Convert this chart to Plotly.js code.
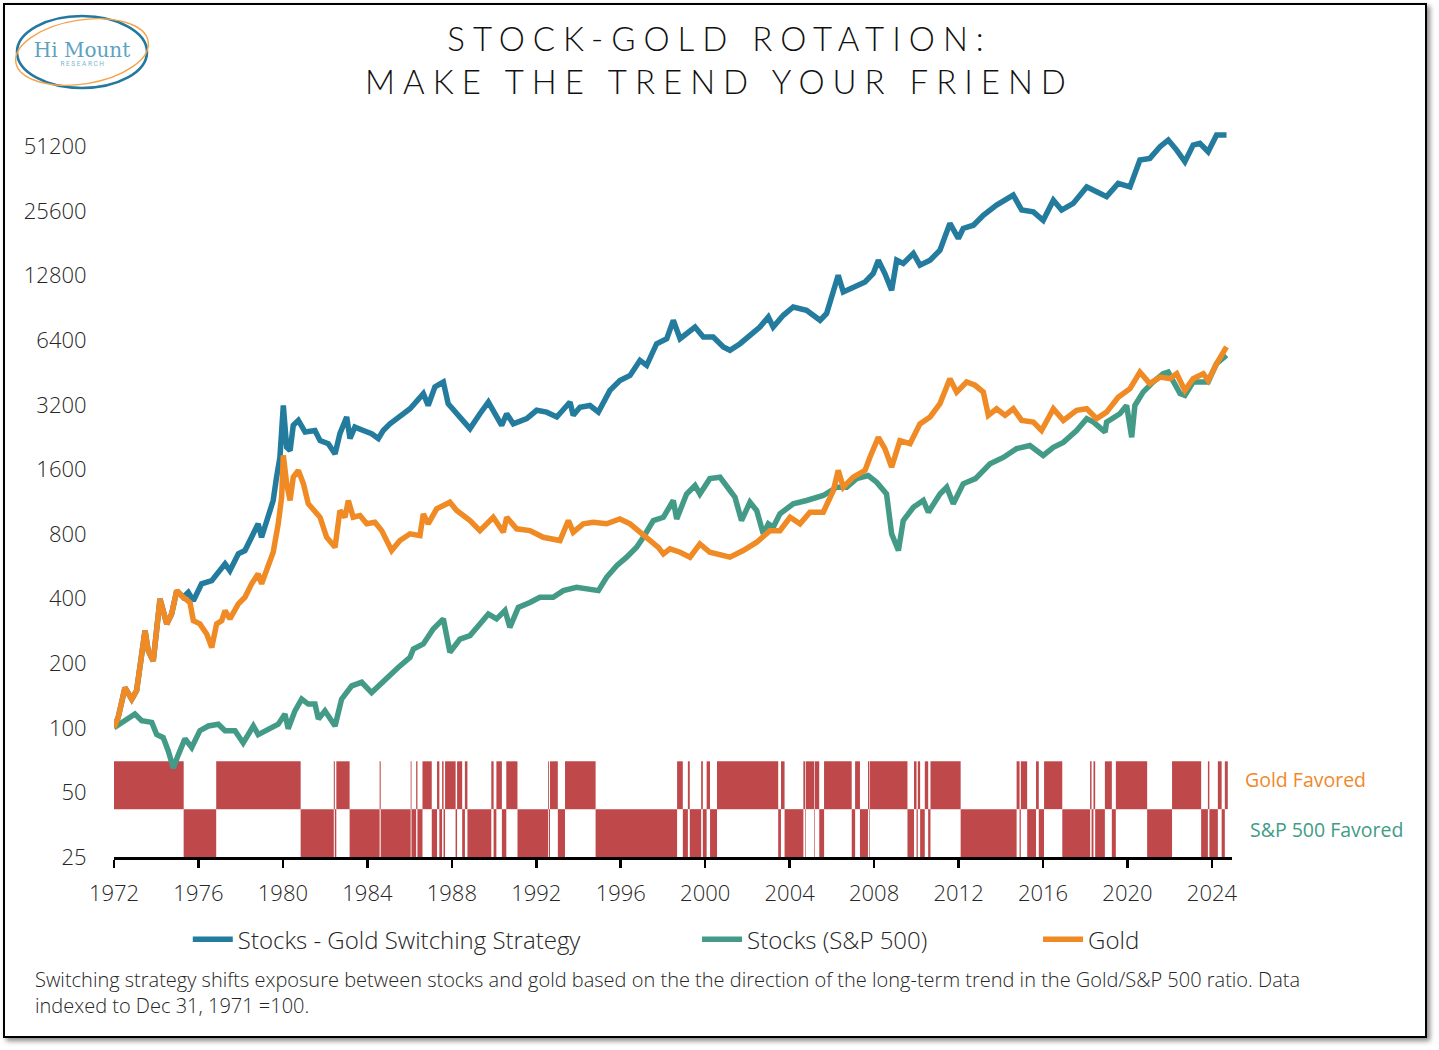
<!DOCTYPE html>
<html>
<head>
<meta charset="utf-8">
<script src="https://cdn.plot.ly/plotly-3.0.1.min.js"></script>
<style>
  body { margin: 0; background: #fff; }
  #frame { position: absolute; left: 3px; top: 3px; width: 1420px; height: 1031px;
           border: 2.5px solid #000; box-shadow: 3px 3px 5px #8a8a8a; background: #fff; }
  #chart { position: absolute; left: 0; top: 0; width: 1439px; height: 1050px; }
  #logo { position: absolute; left: 0; top: 0; }
  .gtitle { letter-spacing: 8px; }
</style>
</head>
<body>
<div id="frame"></div>
<div id="chart"></div>
<svg id="logo" width="170" height="100">
  <ellipse cx="82" cy="52" rx="65" ry="36" fill="none" stroke="#23789F" stroke-width="2.6"/>
  <ellipse cx="82" cy="52" rx="67" ry="32" fill="none" stroke="#F4A34B" stroke-width="1.4" transform="rotate(-9 82 52)"/>
  <text x="82" y="57" text-anchor="middle" font-family="DejaVu Serif, serif" font-size="20" font-weight="300" fill="#5BA3C0">Hi Mount</text>
  <text x="83" y="65.5" text-anchor="middle" font-family="Roboto, sans-serif" font-size="6.5" letter-spacing="1.6" fill="#7AB5CE">RESEARCH</text>
</svg>
<script>
// ------------------------------------------------------------
// data (decimal years, index level, Dec 31 1971 = 100)
// ------------------------------------------------------------

const goldYears = [1972.00, 1972.20, 1972.52, 1972.84, 1973.07, 1973.23, 1973.47, 1973.62, 1973.86, 1974.18,
  1974.50, 1974.73, 1974.97, 1975.28, 1975.60, 1975.76, 1976.07, 1976.39, 1976.63, 1976.86,
  1977.10, 1977.26, 1977.49, 1977.89, 1978.20, 1978.52, 1978.83, 1978.99, 1979.31, 1979.54,
  1979.78, 1979.94, 1980.02, 1980.18, 1980.34, 1980.49, 1980.73, 1980.97, 1981.20, 1981.52,
  1981.76, 1982.07, 1982.31, 1982.47, 1982.70, 1982.94, 1983.10, 1983.33, 1983.65, 1983.97,
  1984.36, 1984.68, 1985.15, 1985.54, 1986.02, 1986.49, 1986.65, 1986.88, 1987.28, 1987.91,
  1988.23, 1988.86, 1989.33, 1989.96, 1990.44, 1990.60, 1991.07, 1991.70, 1992.33, 1993.12,
  1993.52, 1993.75, 1994.23, 1994.70, 1995.33, 1995.96, 1996.44, 1996.83, 1997.30, 1997.78,
  1998.02, 1998.33, 1998.81, 1999.28, 1999.75, 2000.22, 2001.17, 2001.80, 2002.44, 2003.07,
  2003.54, 2004.02, 2004.49, 2004.96, 2005.59, 2006.07, 2006.30, 2006.54, 2007.01, 2007.57,
  2007.80, 2008.20, 2008.51, 2008.83, 2009.22, 2009.70, 2010.17, 2010.65, 2011.12, 2011.59,
  2011.91, 2012.38, 2012.78, 2013.17, 2013.41, 2013.80, 2014.20, 2014.59, 2014.99, 2015.54,
  2015.93, 2016.49, 2016.96, 2017.59, 2018.07, 2018.54, 2019.01, 2019.56, 2020.12, 2020.59,
  2021.06, 2021.54, 2022.01, 2022.33, 2022.72, 2023.11, 2023.59, 2023.82, 2024.22, 2024.46,
  2024.69]
const goldValues = [100, 112, 154, 136, 149, 198, 284, 229, 205, 399,
  305, 339, 436, 406, 384, 316, 305, 274, 237, 305,
  316, 352, 322, 378, 406, 469, 522, 469, 560, 658,
  893, 1188, 1860, 1372, 1147, 1473, 1584, 1372, 1107, 1030,
  958, 773, 720, 694, 1030, 958, 1147, 958, 976, 893,
  908, 830, 670, 746, 802, 787, 994, 893, 1048, 1126,
  1030, 925, 830, 958, 816, 958, 846, 830, 773, 746,
  925, 816, 893, 908, 893, 941, 893, 830, 760, 694,
  647, 683, 658, 624, 720, 658, 624, 670, 733, 830,
  830, 958, 893, 1011, 1011, 1277, 1584, 1323, 1473, 1584,
  1820, 2260, 2000, 1640, 2180, 2110, 2610, 2810, 3240, 4240,
  3670, 4090, 3950, 3670, 2860, 3070, 2860, 3070, 2710, 2660,
  2430, 3070, 2710, 3020, 3070, 2760, 2960, 3470, 3810, 4550,
  4020, 4310, 4240, 4470, 3740, 4240, 4470, 4160, 4980, 5450,
  5960]

const spxYears = [1972.00, 1972.36, 1972.99, 1973.31, 1973.79, 1974.02, 1974.33, 1974.57, 1974.81, 1975.05,
  1975.36, 1975.68, 1976.07, 1976.47, 1976.94, 1977.26, 1977.73, 1978.12, 1978.60, 1978.83,
  1979.31, 1979.78, 1980.10, 1980.25, 1980.57, 1980.89, 1981.20, 1981.52, 1981.68, 1981.99,
  1982.47, 1982.78, 1983.26, 1983.73, 1984.20, 1984.60, 1984.99, 1985.46, 1986.02, 1986.18,
  1986.65, 1987.12, 1987.60, 1987.91, 1988.39, 1988.86, 1989.33, 1989.73, 1990.12, 1990.52,
  1990.75, 1991.15, 1991.70, 1992.17, 1992.80, 1993.28, 1993.91, 1994.54, 1994.94, 1995.33,
  1995.81, 1996.28, 1996.75, 1997.07, 1997.54, 1998.02, 1998.49, 1998.65, 1999.12, 1999.52,
  1999.75, 2000.22, 2000.70, 2001.17, 2001.41, 2001.72, 2002.12, 2002.44, 2002.75, 2002.99,
  2003.22, 2003.54, 2004.17, 2004.80, 2005.59, 2006.23, 2006.70, 2007.17, 2007.72, 2008.12,
  2008.59, 2008.83, 2009.15, 2009.38, 2009.86, 2010.33, 2010.57, 2011.12, 2011.44, 2011.75,
  2012.22, 2012.80, 2013.49, 2014.12, 2014.75, 2015.38, 2016.01, 2016.49, 2016.96, 2017.59,
  2018.07, 2018.39, 2018.94, 2019.01, 2019.64, 2019.96, 2020.20, 2020.35, 2020.74, 2021.21,
  2021.69, 2021.93, 2022.49, 2022.72, 2023.11, 2023.82, 2024.22, 2024.69]
const spxValues = [100, 106, 116, 108, 106, 93, 90, 78, 65, 75,
  89, 81, 97, 102, 104, 97, 97, 85, 102, 93,
  99, 104, 116, 99, 120, 136, 129, 129, 110, 120,
  102, 136, 157, 163, 146, 160, 172, 191, 213, 233,
  246, 289, 322, 225, 259, 269, 305, 339, 322, 352,
  294, 364, 384, 406, 406, 436, 452, 444, 436, 503,
  570, 624, 694, 773, 925, 958, 1147, 941, 1230, 1347,
  1230, 1450, 1473, 1277, 1188, 925, 1126, 1030, 802, 893,
  860, 994, 1107, 1147, 1210, 1323, 1323, 1450, 1500, 1396,
  1230, 802, 670, 925, 1067, 1147, 1011, 1230, 1323, 1107,
  1372, 1450, 1700, 1820, 2000, 2070, 1860, 2030, 2140, 2430,
  2760, 2660, 2390, 2660, 2910, 3180, 2260, 3180, 3670, 4090,
  4470, 4550, 3610, 3540, 4090, 4090, 4980, 5450]

const stratYears = [1972.00, 1972.20, 1972.52, 1972.84, 1973.07, 1973.23, 1973.47, 1973.62, 1973.86, 1974.18,
  1974.50, 1974.73, 1974.97, 1975.28, 1975.52, 1975.76, 1976.15, 1976.63, 1976.86, 1977.26,
  1977.49, 1977.89, 1978.20, 1978.52, 1978.83, 1978.99, 1979.31, 1979.54, 1979.70, 1979.86,
  1980.02, 1980.18, 1980.34, 1980.49, 1980.73, 1981.05, 1981.52, 1981.76, 1982.15, 1982.47,
  1982.70, 1983.02, 1983.18, 1983.41, 1983.81, 1984.20, 1984.52, 1984.75, 1985.07, 1985.54,
  1986.02, 1986.65, 1986.88, 1987.20, 1987.60, 1987.83, 1988.23, 1988.86, 1989.33, 1989.73,
  1990.36, 1990.60, 1990.91, 1991.55, 1992.02, 1992.49, 1992.97, 1993.60, 1993.75, 1994.07,
  1994.54, 1994.94, 1995.49, 1995.96, 1996.44, 1996.91, 1997.23, 1997.70, 1998.18, 1998.49,
  1998.81, 1999.20, 1999.52, 1999.91, 2000.38, 2000.86, 2001.17, 2001.65, 2002.12, 2002.59,
  2002.99, 2003.22, 2003.70, 2004.17, 2004.80, 2005.44, 2005.75, 2006.07, 2006.30, 2006.54,
  2007.01, 2007.57, 2007.96, 2008.20, 2008.51, 2008.83, 2009.07, 2009.38, 2009.86, 2010.17,
  2010.65, 2011.12, 2011.59, 2011.99, 2012.22, 2012.70, 2013.17, 2013.80, 2014.59, 2014.99,
  2015.54, 2016.01, 2016.49, 2016.88, 2017.43, 2018.07, 2018.54, 2019.01, 2019.56, 2020.12,
  2020.59, 2021.06, 2021.54, 2021.93, 2022.33, 2022.72, 2023.11, 2023.43, 2023.82, 2024.22,
  2024.69]
const stratValues = [100, 112, 154, 136, 149, 198, 284, 229, 205, 399,
  305, 339, 436, 406, 428, 391, 469, 485, 522, 581,
  540, 647, 670, 773, 893, 773, 958, 1147, 1473, 1820,
  3180, 2030, 1960, 2570, 2710, 2390, 2430, 2180, 2110, 1890,
  2350, 2810, 2230, 2520, 2430, 2350, 2230, 2430, 2610, 2810,
  3070, 3610, 3180, 3880, 4090, 3240, 2910, 2480, 2910, 3300,
  2570, 2910, 2610, 2760, 3020, 2960, 2810, 3300, 2860, 3120,
  3180, 2960, 3740, 4160, 4390, 5160, 4890, 6170, 6510, 7930,
  6510, 7000, 7380, 6630, 6630, 5960, 5750, 6170, 6750, 7380,
  8220, 7380, 8370, 9150, 8830, 7930, 8530, 10570, 12870, 10760,
  11350, 11980, 13100, 15120, 13100, 10950, 15120, 14600, 16250, 14330,
  15120, 16830, 22440, 19090, 21260, 22000, 24500, 27300, 30400, 25900,
  25400, 23200, 28800, 25900, 27800, 33200, 31500, 29900, 34500, 33200,
  44300, 45100, 51100, 54900, 49300, 43500, 52000, 53000, 48400, 57900,
  57900]

// regime switch dates: first period gold favored, then alternating
const regimeBreaks = [1972.00, 1975.30, 1976.84, 1980.84, 1982.41, 1982.46, 1982.53, 1983.16, 1984.58, 1984.63,
  1986.05, 1986.09, 1986.31, 1986.37, 1986.61, 1987.05, 1987.30, 1987.41, 1987.54, 1987.61,
  1987.68, 1988.18, 1988.25, 1988.49, 1988.62, 1988.74, 1989.87, 1989.98, 1990.11, 1990.37,
  1990.58, 1991.11, 1992.56, 1992.60, 1992.65, 1993.02, 1993.36, 1994.81, 1998.67, 1998.94,
  1999.18, 1999.27, 1999.81, 1999.89, 2000.07, 2000.23, 2000.56, 2003.46, 2003.59, 2003.76,
  2004.65, 2004.73, 2004.76, 2005.16, 2005.19, 2005.40, 2005.63, 2006.94, 2007.10, 2007.33,
  2007.71, 2007.77, 2007.80, 2009.58, 2009.89, 2010.01, 2010.07, 2010.18, 2010.40, 2010.56,
  2010.67, 2012.10, 2014.75, 2014.89, 2014.95, 2015.25, 2015.67, 2015.80, 2016.05, 2016.91,
  2018.23, 2018.30, 2018.39, 2018.47, 2018.93, 2019.26, 2019.45, 2020.93, 2022.11, 2023.49,
  2023.81, 2023.88, 2024.28, 2024.46, 2024.61, 2024.75]

const yTicks = [25, 50, 100, 200, 400, 800, 1600, 3200, 6400, 12800, 25600, 51200]
const xTickYears = [1972, 1976, 1980, 1984, 1988, 1992, 1996, 2000, 2004, 2008, 2012, 2016, 2020, 2024]

// ------------------------------------------------------------
// helpers
// ------------------------------------------------------------

// decimal year -> ms since epoch
function yearMs(y) {
    const yr = Math.floor(y)
    const a = Date.UTC(yr, 0, 1)
    const b = Date.UTC(yr + 1, 0, 1)
    return a + (y - yr) * (b - a)
}
function yearDate(y) {
    return new Date(yearMs(y)).toISOString().slice(0, 10)
}

// regime bars: gold favored on upper band, S&P favored on lower band
const goldBar = { x: [], width: [], base: [], y: [] }
const spxBar = { x: [], width: [], base: [], y: [] }
for (let i = 0; i < regimeBreaks.length - 1; i++) {
    const target = (i % 2 === 0) ? goldBar : spxBar
    target.x.push(yearDate(regimeBreaks[i]))
    target.width.push(yearMs(regimeBreaks[i + 1]) - yearMs(regimeBreaks[i]))
    target.base.push(i % 2 === 0 ? 1 : 0)
    target.y.push(1)
}

const textColor = '#262626'
const baseFont = 'Open Sans, Segoe UI, sans-serif'

function barTrace(b) {
    return {
        type: 'bar', x: b.x, y: b.y, base: b.base, width: b.width, offset: 0,
        marker: { color: '#BE484A', line: { width: 0 } },
        xaxis: 'x', yaxis: 'y', showlegend: false, hoverinfo: 'skip'
    }
}
function lineTrace(xs, ys, name, color, legend) {
    return {
        type: 'scatter', mode: 'lines', name: name,
        x: xs.map(yearDate), y: ys,
        line: { color: color, width: 5.5 },
        xaxis: 'x', yaxis: 'y2', legend: legend
    }
}

const traces = [
    barTrace(goldBar),
    barTrace(spxBar),
    lineTrace(stratYears, stratValues, 'Stocks - Gold Switching Strategy', '#237C9D', 'legend'),
    lineTrace(spxYears, spxValues, 'Stocks (S&P 500)', '#439B87', 'legend2'),
    lineTrace(goldYears, goldValues, 'Gold', '#F08A24', 'legend3')
]

function legendBox(x) {
    return {
        orientation: 'h', x: x, xanchor: 'left', y: -0.113, yanchor: 'middle',
        bgcolor: 'rgba(0,0,0,0)', font: { family: baseFont, size: 24, color: textColor, weight: 300 },
        itemwidth: 40
    }
}

const layout = {
    width: 1439, height: 1050,
    margin: { l: 114, r: 207, t: 125, b: 193 },
    paper_bgcolor: 'rgba(0,0,0,0)', plot_bgcolor: 'rgba(0,0,0,0)',
    font: { family: baseFont, color: textColor },
    title: {
        text: 'STOCK-GOLD ROTATION:<br>MAKE THE TREND YOUR FRIEND',
        font: { family: 'Lato, sans-serif', size: 33, weight: 300, color: '#111' },
        xref: 'container', x: 0.5, xanchor: 'center',
        yref: 'container', y: 0.951, yanchor: 'top'
    },
    showlegend: true,
    legend: legendBox(0.066),
    legend2: legendBox(0.5215),
    legend3: legendBox(0.8265),
    barmode: 'overlay',
    xaxis: {
        type: 'date', range: [yearDate(1972.0), yearDate(2024.95)],
        tickvals: xTickYears.map(yearDate), ticktext: xTickYears.map(String),
        ticks: 'outside', ticklen: 8, tickwidth: 2.5, tickcolor: '#000',
        ticklabelstandoff: 7,
        showline: true, linecolor: '#000', linewidth: 2.5, showgrid: false, zeroline: false,
        tickfont: { family: baseFont, size: 22, color: textColor, weight: 300 }
    },
    yaxis: { range: [0, 15.3], visible: false, fixedrange: true },
    yaxis2: {
        type: 'log', overlaying: 'y', side: 'left',
        range: [Math.log10(25), Math.log10(64510)],
        tickvals: yTicks, ticktext: yTicks.map(String),
        ticks: 'outside', ticklen: 22, tickcolor: 'rgba(0,0,0,0)',
        showgrid: false, showline: false, zeroline: false,
        tickfont: { family: baseFont, size: 22, color: textColor, weight: 300 }
    },
    annotations: [
        { text: 'Gold Favored', xref: 'paper', yref: 'paper', x: 1.0098, y: 0.1052,
          xanchor: 'left', yanchor: 'middle', showarrow: false,
          font: { family: baseFont, size: 19.5, color: '#F0882A' } },
        { text: 'S&P 500 Favored', xref: 'paper', yref: 'paper', x: 1.0143, y: 0.0369,
          xanchor: 'left', yanchor: 'middle', showarrow: false,
          font: { family: baseFont, size: 19.5, color: '#3F9C85' } },
        { text: 'Switching strategy shifts exposure between stocks and gold based on the the direction of the long-term trend in the Gold/S&P 500 ratio. Data<br>indexed to Dec 31, 1971 =100.',
          xref: 'paper', yref: 'paper', x: -0.0725, y: -0.146,
          xanchor: 'left', yanchor: 'top', align: 'left', showarrow: false,
          font: { family: baseFont, size: 20, color: textColor, weight: 300 } }
    ],
    hovermode: false
}

Plotly.newPlot('chart', traces, layout, { displayModeBar: false, staticPlot: true })
</script>
</body>
</html>
